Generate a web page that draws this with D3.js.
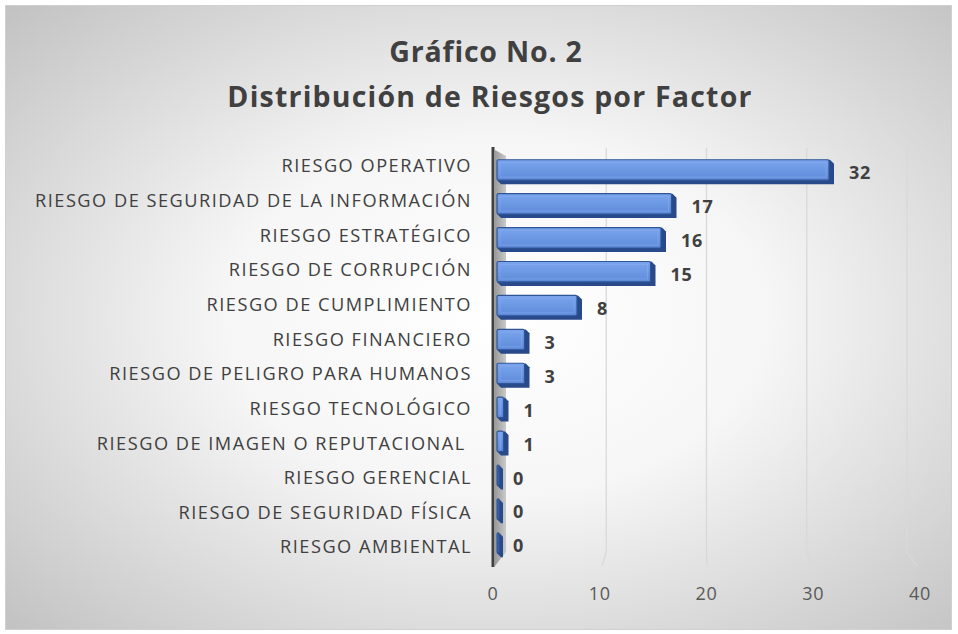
<!DOCTYPE html>
<html><head><meta charset="utf-8">
<script src="https://cdn.jsdelivr.net/npm/d3@7"></script>
<style>html,body{margin:0;padding:0;background:#fff}svg{display:block}</style>
</head><body>
<script>
const categories = ["RIESGO OPERATIVO","RIESGO DE SEGURIDAD DE LA INFORMACIÓN","RIESGO ESTRATÉGICO","RIESGO DE CORRUPCIÓN","RIESGO DE CUMPLIMIENTO","RIESGO FINANCIERO","RIESGO DE PELIGRO PARA HUMANOS","RIESGO TECNOLÓGICO","RIESGO DE IMAGEN O REPUTACIONAL ","RIESGO GERENCIAL","RIESGO DE SEGURIDAD FÍSICA","RIESGO AMBIENTAL"];
const values = [32,17,16,15,8,3,3,1,1,0,0,0];
const xTicks = [0,10,20,30,40];
const titleLines = ["Gráfico No. 2","Distribución de Riesgos por Factor"];

const W = 958, H = 634;
const svg = d3.select("body").append("svg").attr("width", W).attr("height", H);
const defs = svg.append("defs");
const bg = defs.append("radialGradient").attr("id","bg").attr("cx","52%").attr("cy","50%").attr("r","72%");
bg.append("stop").attr("offset","0%").attr("stop-color","#ffffff");
bg.append("stop").attr("offset","40%").attr("stop-color","#f6f6f6");
bg.append("stop").attr("offset","100%").attr("stop-color","#c2c2c2");
const barG = defs.append("linearGradient").attr("id","barg").attr("x1",0).attr("y1",0).attr("x2",0).attr("y2",1);
barG.append("stop").attr("offset","0%").attr("stop-color","#7ba5ed");
barG.append("stop").attr("offset","100%").attr("stop-color","#5e8ad9");
const wallG = defs.append("linearGradient").attr("id","wallg").attr("x1",0).attr("y1",0).attr("x2",1).attr("y2",0);
wallG.append("stop").attr("offset","0%").attr("stop-color","#9a9a9a");
wallG.append("stop").attr("offset","100%").attr("stop-color","#cacaca");

svg.append("rect").attr("x",5.5).attr("y",5.5).attr("width",946).attr("height",624)
  .attr("fill","url(#bg)").attr("stroke","#d0d0d0").attr("stroke-width",1);

const font = "'Open Sans', sans-serif";
svg.append("text").attr("text-anchor","middle").attr("fill","#404040")
  .attr("font-family",font).attr("font-weight","bold").attr("font-size",28.5).attr("letter-spacing",0.8)
  .attr("x",486).attr("y",62).text(titleLines[0]);
svg.append("text").attr("text-anchor","middle").attr("fill","#404040")
  .attr("font-family",font).attr("font-weight","bold").attr("font-size",28.5).attr("letter-spacing",1.2)
  .attr("x",490).attr("y",107).text(titleLines[1]);

const x = d3.scaleLinear().domain([0,40]).range([497,917]);
const xBack = d3.scaleLinear().domain([0,40]).range([506,907]);
const xTickPos = d3.scaleLinear().domain([0,40]).range([493,920]);
const y = d3.scaleBand().domain(categories).range([155,562]).paddingInner(0.28).paddingOuter(0.14);
const yLab = d3.scaleBand().domain(categories).range([148.7,564.4]);

// gridlines (back wall + floor)
svg.append("g").selectAll("path").data(xTicks.filter(d=>d>0)).join("path")
  .attr("d", d => `M${xBack(d)},148 L${xBack(d)},552 L${x(d)},566`)
  .attr("fill","none").attr("stroke","#d9d9d9").attr("stroke-width",1.3);

// side wall
svg.append("path").attr("d",`M495,150 L506,156 L506,552 L495,566 Z`).attr("fill","url(#wallg)");

// axis line
svg.append("line").attr("x1",493).attr("x2",493).attr("y1",147).attr("y2",567)
  .attr("stroke","#404040").attr("stroke-width",3);

// bars
const bars = svg.append("g");
const bh = y.bandwidth();
categories.forEach((c,i) => {
  const v = values[i];
  const x0 = x(0), x1 = Math.max(x(v), x0 + 5), y0 = y(c);
  const g = bars.append("g");
  const depth = 4;
  g.append("path").attr("d",`M${x0},${y0+bh-depth} L${x0+depth},${y0+bh} L${x1+1},${y0+bh} L${x1+1},${y0+depth} L${x1-depth+1},${y0} Z`)
    .attr("fill","#28498a");
  const w = Math.max(x1 - x0 - depth, 2);
  g.append("rect").attr("x",x0).attr("y",y0).attr("width",w).attr("height",bh-depth)
    .attr("fill", v > 0 ? "url(#barg)" : "#3f68b5").attr("stroke","#2f5597").attr("stroke-width",1.2).attr("rx",1.5);
  if (v > 0) {
    g.append("rect").attr("x",x0+3).attr("y",y0+3).attr("width",Math.max(w-6,0)).attr("height",bh-depth-6)
      .attr("fill","none").attr("stroke","#8cb0f0").attr("stroke-width",1).attr("opacity",0.5);
  }
});

// category labels
svg.append("g").selectAll("text").data(categories).join("text")
  .attr("x",472).attr("y", d => yLab(d) + yLab.bandwidth()/2).attr("dy","0.35em")
  .attr("text-anchor","end").attr("fill","#404040").attr("font-family",font).attr("font-size",18.2)
  .attr("letter-spacing",1.5).style("white-space","pre")
  .text(d => d);

// value labels
svg.append("g").selectAll("text").data(values).join("text")
  .attr("x",(d) => x(d) + 16).attr("y",(d,i) => y(categories[i]) + bh/2 + 1).attr("dy","0.35em")
  .attr("fill","#404040").attr("font-family",font).attr("font-weight","bold").attr("font-size",18)
  .attr("letter-spacing",0.6)
  .text(d => d);

// x tick labels
svg.append("g").selectAll("text").data(xTicks).join("text")
  .attr("x", d => xTickPos(d)).attr("y",594).attr("dy","0.35em").attr("text-anchor","middle")
  .attr("fill","#595959").attr("font-family",font).attr("font-size",18).attr("letter-spacing",0.8)
  .text(d => d);
</script>
</body></html>
